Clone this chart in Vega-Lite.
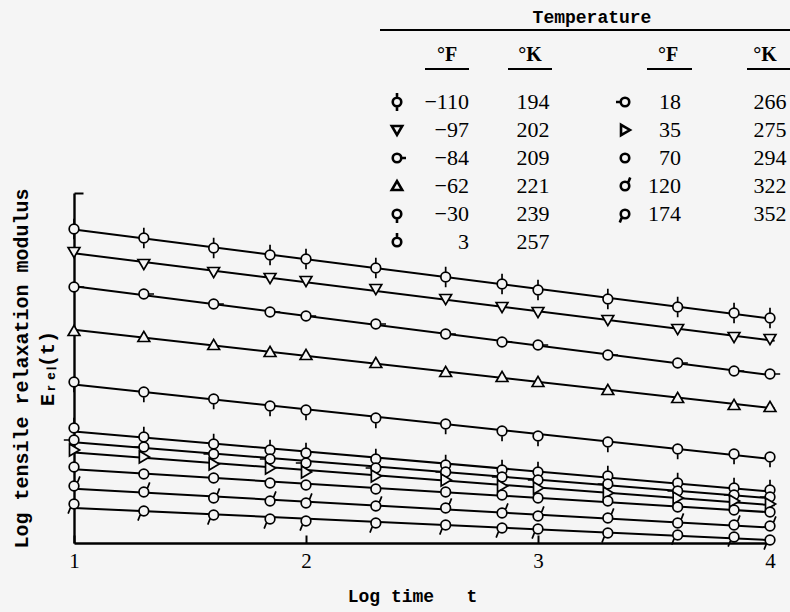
{
  "$schema": "https://vega.github.io/schema/vega-lite/v6.json",
  "width": 696,
  "height": 350,
  "autosize": {"type": "none"},
  "padding": {"left": 74, "top": 193, "right": 20, "bottom": 69},
  "background": "#f5f5f5",
  "config": {"view": {"stroke": null}},
  "datasets": {
    "pts": [
      {"K":"194","x":1,"y":314},{"K":"194","x":1.301,"y":305},{"K":"194","x":1.602,"y":295},{"K":"194","x":1.845,"y":288},{"K":"194","x":2,"y":284},{"K":"194","x":2.301,"y":275},{"K":"194","x":2.602,"y":266},{"K":"194","x":2.845,"y":259},{"K":"194","x":3,"y":253},{"K":"194","x":3.301,"y":244},{"K":"194","x":3.602,"y":236},{"K":"194","x":3.845,"y":230},{"K":"194","x":4,"y":225},
      {"K":"202","x":1,"y":291},{"K":"202","x":1.301,"y":279},{"K":"202","x":1.602,"y":271},{"K":"202","x":1.845,"y":265},{"K":"202","x":2,"y":262},{"K":"202","x":2.301,"y":254},{"K":"202","x":2.602,"y":244},{"K":"202","x":2.845,"y":236},{"K":"202","x":3,"y":231},{"K":"202","x":3.301,"y":223},{"K":"202","x":3.602,"y":214},{"K":"202","x":3.845,"y":206},{"K":"202","x":4,"y":204},
      {"K":"209","x":1,"y":256},{"K":"209","x":1.301,"y":249},{"K":"209","x":1.602,"y":239},{"K":"209","x":1.845,"y":231},{"K":"209","x":2,"y":227},{"K":"209","x":2.301,"y":219},{"K":"209","x":2.602,"y":209},{"K":"209","x":2.845,"y":201},{"K":"209","x":3,"y":198},{"K":"209","x":3.301,"y":188},{"K":"209","x":3.602,"y":180},{"K":"209","x":3.845,"y":172},{"K":"209","x":4,"y":169},
      {"K":"221","x":1,"y":212},{"K":"221","x":1.301,"y":206},{"K":"221","x":1.602,"y":198},{"K":"221","x":1.845,"y":191},{"K":"221","x":2,"y":188},{"K":"221","x":2.301,"y":180},{"K":"221","x":2.602,"y":171},{"K":"221","x":2.845,"y":166},{"K":"221","x":3,"y":161},{"K":"221","x":3.301,"y":153},{"K":"221","x":3.602,"y":145},{"K":"221","x":3.845,"y":138},{"K":"221","x":4,"y":136},
      {"K":"239","x":1,"y":161},{"K":"239","x":1.301,"y":151},{"K":"239","x":1.602,"y":144},{"K":"239","x":1.845,"y":137},{"K":"239","x":2,"y":133},{"K":"239","x":2.301,"y":125},{"K":"239","x":2.602,"y":119},{"K":"239","x":2.845,"y":112},{"K":"239","x":3,"y":107},{"K":"239","x":3.301,"y":101},{"K":"239","x":3.602,"y":94},{"K":"239","x":3.845,"y":89},{"K":"239","x":4,"y":86},
      {"K":"257","x":1,"y":115},{"K":"257","x":1.301,"y":106},{"K":"257","x":1.602,"y":99},{"K":"257","x":1.845,"y":93},{"K":"257","x":2,"y":90},{"K":"257","x":2.301,"y":84},{"K":"257","x":2.602,"y":78},{"K":"257","x":2.845,"y":73},{"K":"257","x":3,"y":71},{"K":"257","x":3.301,"y":67},{"K":"257","x":3.602,"y":60},{"K":"257","x":3.845,"y":55},{"K":"257","x":4,"y":53},
      {"K":"266","x":1,"y":103},{"K":"266","x":1.301,"y":96},{"K":"266","x":1.602,"y":89},{"K":"266","x":1.845,"y":84},{"K":"266","x":2,"y":80},{"K":"266","x":2.301,"y":75},{"K":"266","x":2.602,"y":71},{"K":"266","x":2.845,"y":66},{"K":"266","x":3,"y":63},{"K":"266","x":3.301,"y":59},{"K":"266","x":3.602,"y":52},{"K":"266","x":3.845,"y":48},{"K":"266","x":4,"y":46},
      {"K":"275","x":1,"y":93},{"K":"275","x":1.301,"y":86},{"K":"275","x":1.602,"y":79},{"K":"275","x":1.845,"y":75},{"K":"275","x":2,"y":71},{"K":"275","x":2.301,"y":67},{"K":"275","x":2.602,"y":63},{"K":"275","x":2.845,"y":57},{"K":"275","x":3,"y":55},{"K":"275","x":3.301,"y":50},{"K":"275","x":3.602,"y":45},{"K":"275","x":3.845,"y":42},{"K":"275","x":4,"y":39},
      {"K":"294","x":1,"y":76},{"K":"294","x":1.301,"y":69},{"K":"294","x":1.602,"y":65},{"K":"294","x":1.845,"y":60},{"K":"294","x":2,"y":58},{"K":"294","x":2.301,"y":54},{"K":"294","x":2.602,"y":51},{"K":"294","x":2.845,"y":48},{"K":"294","x":3,"y":45},{"K":"294","x":3.301,"y":42},{"K":"294","x":3.602,"y":36},{"K":"294","x":3.845,"y":33},{"K":"294","x":4,"y":31},
      {"K":"322","x":1,"y":57},{"K":"322","x":1.301,"y":51},{"K":"322","x":1.602,"y":45},{"K":"322","x":1.845,"y":42},{"K":"322","x":2,"y":40},{"K":"322","x":2.301,"y":37},{"K":"322","x":2.602,"y":35},{"K":"322","x":2.845,"y":30},{"K":"322","x":3,"y":27},{"K":"322","x":3.301,"y":25},{"K":"322","x":3.602,"y":20},{"K":"322","x":3.845,"y":18},{"K":"322","x":4,"y":17},
      {"K":"352","x":1,"y":39},{"K":"352","x":1.301,"y":32},{"K":"352","x":1.602,"y":28},{"K":"352","x":1.845,"y":24},{"K":"352","x":2,"y":22},{"K":"352","x":2.301,"y":20},{"K":"352","x":2.602,"y":18},{"K":"352","x":2.845,"y":15},{"K":"352","x":3,"y":14},{"K":"352","x":3.301,"y":10},{"K":"352","x":3.602,"y":8},{"K":"352","x":3.845,"y":6},{"K":"352","x":4,"y":3}
    ],
    "legend": [
      {"group":"left","row":1,"F":"−110","K":"194"},
      {"group":"left","row":2,"F":"−97","K":"202"},
      {"group":"left","row":3,"F":"−84","K":"209"},
      {"group":"left","row":4,"F":"−62","K":"221"},
      {"group":"left","row":5,"F":"−30","K":"239"},
      {"group":"left","row":6,"F":"3","K":"257"},
      {"group":"right","row":1,"F":"18","K":"266"},
      {"group":"right","row":2,"F":"35","K":"275"},
      {"group":"right","row":3,"F":"70","K":"294"},
      {"group":"right","row":4,"F":"120","K":"322"},
      {"group":"right","row":5,"F":"174","K":"352"}
    ]
  },
  "layer": [
    {
      "data": {"name": "pts"},
      "layer": [
        {
          "transform": [{"regression": "y", "on": "x", "groupby": ["K"], "extent": [1, 4.02]}],
          "mark": {"type": "line", "color": "black", "strokeWidth": 2},
          "encoding": {
            "x": {
              "field": "x", "type": "quantitative",
              "scale": {"domain": [1, 4], "nice": false, "zero": false},
              "axis": {
                "values": [1, 2, 3, 4], "format": "d", "grid": false,
                "domainColor": "black", "domainWidth": 2.4,
                "tickColor": "black", "tickWidth": 2, "tickSize": -8,
                "labelFont": "Liberation Serif", "labelFontSize": 21, "labelColor": "black", "labelPadding": 15,
                "labelFlush": false,
                "title": "Log time\u00a0\u00a0\u00a0t", "titleFont": "Liberation Mono", "titleFontSize": 18,
                "titleFontWeight": "bold", "titleColor": "black", "titlePadding": 16, "titleX": 338
              }
            },
            "y": {
              "field": "y", "type": "quantitative",
              "scale": {"domain": [0, 350], "nice": false, "zero": false},
              "axis": {
                "values": [350], "labels": false, "grid": false,
                "domainColor": "black", "domainWidth": 2.4,
                "tickColor": "black", "tickWidth": 2, "tickSize": -9,
                "title": ["Log tensile relaxation modulus", "Eᵣₑₗ(t)"],
                "titleFont": "Liberation Mono", "titleFontSize": 20, "titleFontWeight": "bold",
                "titleColor": "black", "titleLineHeight": 26, "titlePadding": 16
              }
            },
            "detail": {"field": "K"}
          }
        },
        {
          "mark": {"type": "point", "fill": "#f5f5f5", "stroke": "black", "strokeWidth": 1.7, "size": 460, "opacity": 1},
          "encoding": {
            "x": {"field": "x", "type": "quantitative"},
            "y": {"field": "y", "type": "quantitative"},
            "shape": {
              "field": "K", "type": "nominal", "legend": null,
              "scale": {
                "domain": ["194","202","209","221","239","257","266","275","294","322","352"],
                "range": [
                  "M0.45,0C0.45,0.25,0.25,0.45,0,0.45C-0.25,0.45,-0.45,0.25,-0.45,0C-0.45,-0.25,-0.25,-0.45,0,-0.45C0.25,-0.45,0.45,-0.25,0.45,0ZM0,-0.45L0,-0.95M0,0.45L0,0.95",
                  "M-0.55,-0.42L0.55,-0.42L0,0.52Z",
                  "M0.45,0C0.45,0.25,0.25,0.45,0,0.45C-0.25,0.45,-0.45,0.25,-0.45,0C-0.45,-0.25,-0.25,-0.45,0,-0.45C0.25,-0.45,0.45,-0.25,0.45,0ZM0.45,0L0.95,0",
                  "M-0.55,0.42L0.55,0.42L0,-0.52Z",
                  "M0.45,0C0.45,0.25,0.25,0.45,0,0.45C-0.25,0.45,-0.45,0.25,-0.45,0C-0.45,-0.25,-0.25,-0.45,0,-0.45C0.25,-0.45,0.45,-0.25,0.45,0ZM0,0.45L0,0.95",
                  "M0.45,0C0.45,0.25,0.25,0.45,0,0.45C-0.25,0.45,-0.45,0.25,-0.45,0C-0.45,-0.25,-0.25,-0.45,0,-0.45C0.25,-0.45,0.45,-0.25,0.45,0ZM0,-0.45L0,-0.95",
                  "M0.45,0C0.45,0.25,0.25,0.45,0,0.45C-0.25,0.45,-0.45,0.25,-0.45,0C-0.45,-0.25,-0.25,-0.45,0,-0.45C0.25,-0.45,0.45,-0.25,0.45,0ZM-0.45,0L-0.95,0",
                  "M-0.42,-0.55L-0.42,0.55L0.52,0Z",
                  "M0.45,0C0.45,0.25,0.25,0.45,0,0.45C-0.25,0.45,-0.45,0.25,-0.45,0C-0.45,-0.25,-0.25,-0.45,0,-0.45C0.25,-0.45,0.45,-0.25,0.45,0Z",
                  "M0.45,0C0.45,0.25,0.25,0.45,0,0.45C-0.25,0.45,-0.45,0.25,-0.45,0C-0.45,-0.25,-0.25,-0.45,0,-0.45C0.25,-0.45,0.45,-0.25,0.45,0ZM0.32,-0.32L0.55,-0.9",
                  "M0.45,0C0.45,0.25,0.25,0.45,0,0.45C-0.25,0.45,-0.45,0.25,-0.45,0C-0.45,-0.25,-0.25,-0.45,0,-0.45C0.25,-0.45,0.45,-0.25,0.45,0ZM-0.32,0.32L-0.55,0.9"
                ]
              }
            }
          }
        }
      ]
    },
    {
      "data": {"name": "legend"},
      "encoding": {
        "x": {"field": "group", "type": "nominal", "scale": {"domain": ["left", "right"], "range": [209, 665]}, "axis": null},
        "y": {"field": "row", "type": "quantitative", "scale": {"domain": [1, 6], "range": [-91, 49], "nice": false, "zero": false}, "axis": null}
      },
      "layer": [
        {
          "mark": {"type": "point", "fill": "#f5f5f5", "stroke": "black", "strokeWidth": 2.6, "size": 360, "opacity": 1},
          "encoding": {"shape": {"field": "K", "type": "nominal", "legend": null}}
        },
        {
          "transform": [{"filter": "datum.group === 'left'"}],
          "mark": {"type": "text", "align": "right", "baseline": "middle", "dx": 72, "font": "Liberation Serif", "fontSize": 22, "color": "black"},
          "encoding": {"text": {"field": "F"}}
        },
        {
          "transform": [{"filter": "datum.group === 'right'"}],
          "mark": {"type": "text", "align": "right", "baseline": "middle", "dx": 56, "font": "Liberation Serif", "fontSize": 22, "color": "black"},
          "encoding": {"text": {"field": "F"}}
        },
        {
          "transform": [{"filter": "datum.group === 'left'"}],
          "mark": {"type": "text", "align": "center", "baseline": "middle", "dx": 136, "font": "Liberation Serif", "fontSize": 22, "color": "black"},
          "encoding": {"text": {"field": "K"}}
        },
        {
          "transform": [{"filter": "datum.group === 'right'"}],
          "mark": {"type": "text", "align": "center", "baseline": "middle", "dx": 145, "font": "Liberation Serif", "fontSize": 22, "color": "black"},
          "encoding": {"text": {"field": "K"}}
        },
        {
          "transform": [{"filter": "datum.row === 1 && datum.group === 'left'"}],
          "mark": {"type": "text", "text": "°F", "align": "center", "baseline": "middle", "dx": 50, "dy": -47, "font": "Liberation Serif", "fontWeight": "bold", "fontSize": 20, "color": "black"}
        },
        {
          "transform": [{"filter": "datum.row === 1 && datum.group === 'left'"}],
          "mark": {"type": "text", "text": "°K", "align": "center", "baseline": "middle", "dx": 133, "dy": -47, "font": "Liberation Serif", "fontWeight": "bold", "fontSize": 20, "color": "black"}
        },
        {
          "transform": [{"filter": "datum.row === 1 && datum.group === 'right'"}],
          "mark": {"type": "text", "text": "°F", "align": "center", "baseline": "middle", "dx": 43, "dy": -47, "font": "Liberation Serif", "fontWeight": "bold", "fontSize": 20, "color": "black"}
        },
        {
          "transform": [{"filter": "datum.row === 1 && datum.group === 'right'"}],
          "mark": {"type": "text", "text": "°K", "align": "center", "baseline": "middle", "dx": 140, "dy": -47, "font": "Liberation Serif", "fontWeight": "bold", "fontSize": 20, "color": "black"}
        },
        {
          "transform": [{"filter": "datum.row === 1 && datum.group === 'right'"}],
          "mark": {"type": "text", "text": "Temperature", "align": "center", "baseline": "middle", "dx": -33, "dy": -84, "font": "Liberation Mono", "fontWeight": "bold", "fontSize": 18, "color": "black"}
        },
        {
          "transform": [{"filter": "datum.row === 1 && datum.group === 'left'"}],
          "mark": {"type": "rule", "color": "black", "strokeWidth": 2, "xOffset": -17, "x2Offset": 165, "yOffset": -72, "y2Offset": -72},
          "encoding": {"x2": {"datum": "right"}}
        },
        {
          "transform": [{"filter": "datum.row === 1 && datum.group === 'left'"}],
          "mark": {"type": "rule", "color": "black", "strokeWidth": 2, "xOffset": 28, "x2Offset": 72, "yOffset": -33, "y2Offset": -33},
          "encoding": {"x2": {"datum": "left"}}
        },
        {
          "transform": [{"filter": "datum.row === 1 && datum.group === 'left'"}],
          "mark": {"type": "rule", "color": "black", "strokeWidth": 2, "xOffset": 111, "x2Offset": 155, "yOffset": -33, "y2Offset": -33},
          "encoding": {"x2": {"datum": "left"}}
        },
        {
          "transform": [{"filter": "datum.row === 1 && datum.group === 'right'"}],
          "mark": {"type": "rule", "color": "black", "strokeWidth": 2, "xOffset": 22, "x2Offset": 67, "yOffset": -33, "y2Offset": -33},
          "encoding": {"x2": {"datum": "right"}}
        },
        {
          "transform": [{"filter": "datum.row === 1 && datum.group === 'right'"}],
          "mark": {"type": "rule", "color": "black", "strokeWidth": 2, "xOffset": 122, "x2Offset": 165, "yOffset": -33, "y2Offset": -33},
          "encoding": {"x2": {"datum": "right"}}
        }
      ]
    }
  ],
  "resolve": {"scale": {"x": "independent", "y": "independent"}, "axis": {"x": "independent", "y": "independent"}}
}
